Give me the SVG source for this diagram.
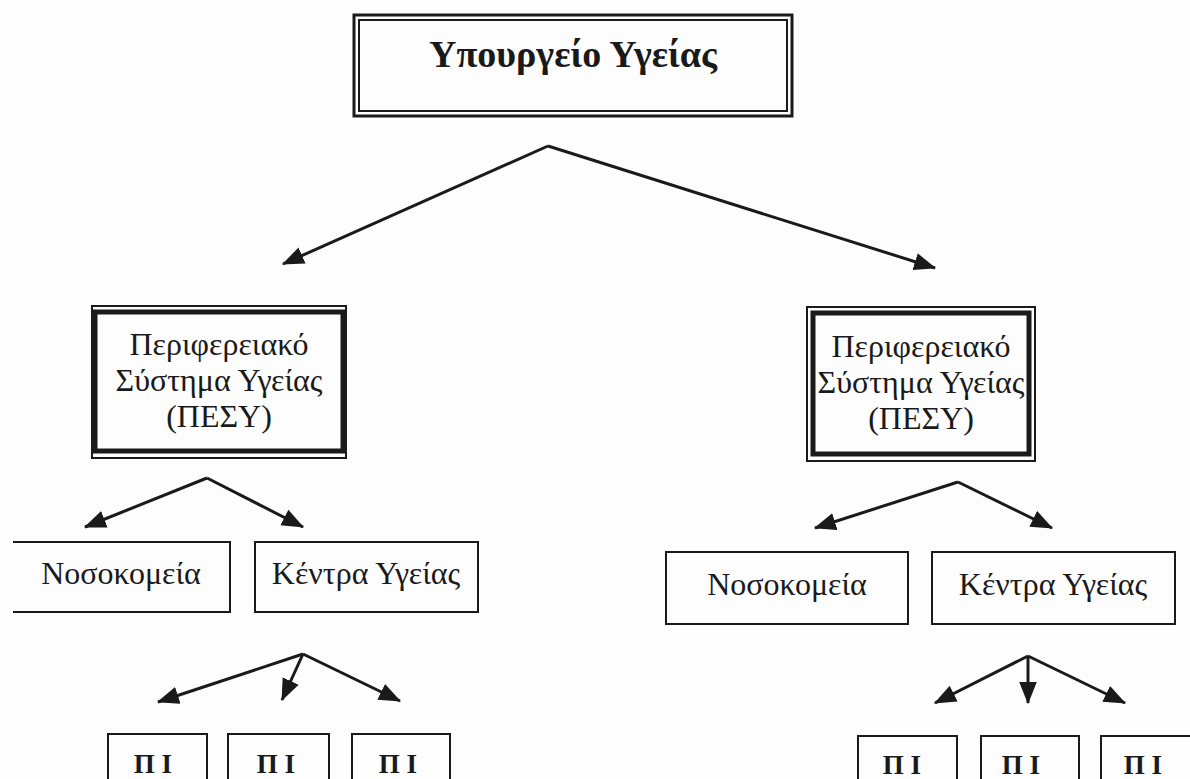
<svg xmlns="http://www.w3.org/2000/svg" width="1190" height="779" viewBox="0 0 1190 779">
<style>
text{font-family:"Liberation Serif","Times New Roman",serif;fill:#1a1a1a;text-anchor:middle}
.t{font-size:32px}
.title{font-size:38px;font-weight:bold}
.pi{font-size:27px;font-weight:bold}
.box{fill:none;stroke:#1a1a1a;stroke-width:2}
.thick{fill:none;stroke:#1a1a1a;stroke-width:5}
.c{fill:none;stroke:#1a1a1a;stroke-width:3}
</style>
<defs>
<marker id="ah" markerUnits="userSpaceOnUse" markerWidth="22" markerHeight="18" viewBox="0 0 20 16" refX="19" refY="8" orient="auto">
<path d="M0,0 L20,8 L0,16 Z" fill="#1a1a1a"/>
</marker>
</defs>
<rect width="1190" height="779" fill="#fdfdfd"/>
<g id="ministry">
<rect x="354" y="15" width="438" height="101" fill="none" stroke="#1a1a1a" stroke-width="3"/>
<rect x="359" y="20" width="428" height="91" class="box"/>
<text class="title" x="573" y="67">Υπουργείο Υγείας</text>
</g>
<g id="pesy-left">
<rect x="92" y="306" width="254" height="152" class="box"/>
<rect x="95" y="312" width="248" height="139" class="thick"/>
<text class="t" x="219" y="355">Περιφερειακό</text>
<text class="t" x="219" y="391">Σύστημα Υγείας</text>
<text class="t" x="219" y="427">(ΠΕΣΥ)</text>
</g>
<g id="pesy-right">
<rect x="807" y="307" width="228" height="154" class="box"/>
<rect x="813" y="313" width="216" height="141" class="thick"/>
<text class="t" x="921" y="357">Περιφερειακό</text>
<text class="t" x="921" y="393">Σύστημα Υγείας</text>
<text class="t" x="921" y="429">(ΠΕΣΥ)</text>
</g>
<g id="hosp-left">
<path d="M13,542 H230 V612 H13" class="box"/>
<text class="t" x="121" y="584">Νοσοκομεία</text>
</g>
<g id="kentra-left">
<rect x="255" y="542" width="223" height="70" class="box"/>
<text class="t" x="366" y="584">Κέντρα Υγείας</text>
</g>
<g id="hosp-right">
<rect x="666" y="552" width="242" height="72" class="box"/>
<text class="t" x="787" y="595">Νοσοκομεία</text>
</g>
<g id="kentra-right">
<rect x="932" y="552" width="243" height="72" class="box"/>
<text class="t" x="1053" y="595">Κέντρα Υγείας</text>
</g>
<g id="pi-left-1"><rect x="108" y="734" width="99" height="60" class="box"/><text class="pi" x="153" y="773">Π Ι</text></g>
<g id="pi-left-2"><rect x="228" y="734" width="101" height="60" class="box"/><text class="pi" x="276" y="773">Π Ι</text></g>
<g id="pi-left-3"><rect x="352" y="734" width="98" height="60" class="box"/><text class="pi" x="398" y="773">Π Ι</text></g>
<g id="pi-right-1"><rect x="858" y="736" width="99" height="60" class="box"/><text class="pi" x="902" y="774">Π Ι</text></g>
<g id="pi-right-2"><rect x="981" y="736" width="98" height="60" class="box"/><text class="pi" x="1021" y="774">Π Ι</text></g>
<g id="pi-right-3"><rect x="1101" y="736" width="100" height="60" class="box"/><text class="pi" x="1143" y="774">Π Ι</text></g>
<g id="connectors">
<path d="M548,146 L283,264" class="c" marker-end="url(#ah)"/>
<path d="M548,146 L935,268" class="c" marker-end="url(#ah)"/>
<path d="M207,478 L85,527" class="c" marker-end="url(#ah)"/>
<path d="M207,478 L303,527" class="c" marker-end="url(#ah)"/>
<path d="M958,482 L815,528" class="c" marker-end="url(#ah)"/>
<path d="M958,482 L1052,528" class="c" marker-end="url(#ah)"/>
<path d="M303,654 L158,702" class="c" marker-end="url(#ah)"/>
<path d="M303,654 L282,700" class="c" marker-end="url(#ah)"/>
<path d="M303,654 L400,701" class="c" marker-end="url(#ah)"/>
<path d="M1028,656 L935,703" class="c" marker-end="url(#ah)"/>
<path d="M1028,656 L1028,703" class="c" marker-end="url(#ah)"/>
<path d="M1028,656 L1125,703" class="c" marker-end="url(#ah)"/>
</g>
</svg>
